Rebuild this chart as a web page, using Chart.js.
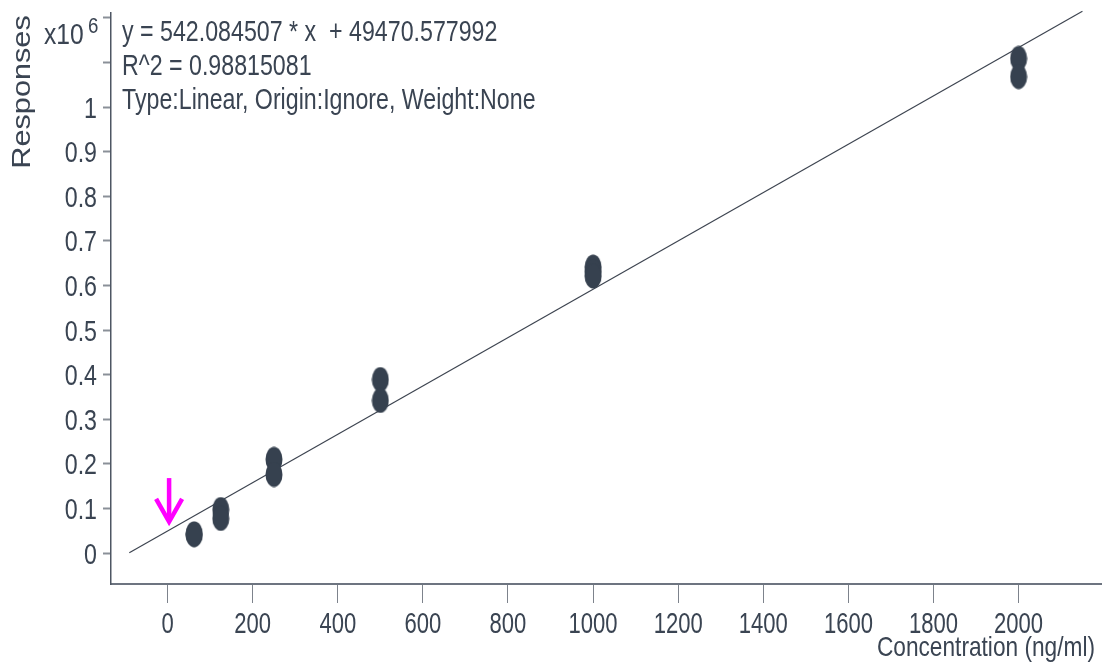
<!DOCTYPE html>
<html>
<head>
<meta charset="utf-8">
<script src="https://cdn.jsdelivr.net/npm/chart.js@4.4.1/dist/chart.umd.min.js"></script>
<style>
  html, body { margin: 0; padding: 0; background: #ffffff; overflow: hidden; }
  #wrap { width: 1102px; height: 665px; position: relative; }
</style>
</head>
<body>
<div id="wrap"><canvas id="calib" width="1102" height="665"></canvas></div>
<script>
// Calibration standards: concentration (ng/ml) and detector response (x10^6)
const concentrations = [62.5, 62.5, 125, 125, 250, 250, 500, 500, 1000, 1000, 1000, 2000, 2000];
const responses      = [0.041, 0.043, 0.0975, 0.0775, 0.210, 0.176, 0.389, 0.342, 0.641, 0.631, 0.621, 1.109, 1.068];

// Linear fit reported by the software
const slope = 542.084507;
const intercept = 49470.577992;
const fitRange = [-90, 2150];

// Axis ticks and their labels
const xTicks = [0, 200, 400, 600, 800, 1000, 1200, 1400, 1600, 1800, 2000];
const xTickLabels = ['0', '200', '400', '600', '800', '1000', '1200', '1400', '1600', '1800', '2000'];
const yTicks = [0, 0.1, 0.2, 0.3, 0.4, 0.5, 0.6, 0.7, 0.8, 0.9, 1, 1.1, 1.2];
const yTickLabels = ['0', '0.1', '0.2', '0.3', '0.4', '0.5', '0.6', '0.7', '0.8', '0.9', '1', '', ''];

// Text block and the arrow marking the origin
const equationLines = [
  'y = 542.084507 * x  + 49470.577992',
  'R^2 = 0.98815081',
  'Type:Linear, Origin:Ignore, Weight:None'
];
const arrowMark = { x: 0, top: 0.168, tip: 0.07 };

const FONT = "'Liberation Sans', Arial, sans-serif";
const TEXT = '#3a4452';
const POINT = '#36414f';

// elliptical marker
function makeMarker(w, h, color) {
  const c = document.createElement('canvas');
  c.width = w; c.height = h;
  const g = c.getContext('2d');
  g.fillStyle = color;
  g.beginPath();
  g.ellipse(w / 2, h / 2, w / 2 - 0.5, h / 2 - 0.5, 0, 0, Math.PI * 2);
  g.fill();
  return c;
}
const marker = makeMarker(18, 26, POINT);

const fitLine = fitRange.map(x => ({ x: x, y: (slope * x + intercept) / 1e6 }));
const points = concentrations.map((c, i) => ({ x: c, y: responses[i] }));

// condensed text: horizontally squeezed glyphs
function narrowText(ctx, text, x, y, size, sx, align) {
  ctx.save();
  ctx.translate(x, y);
  ctx.scale(sx, 1);
  ctx.font = size + 'px ' + FONT;
  ctx.textAlign = align || 'left';
  ctx.textBaseline = 'alphabetic';
  ctx.fillText(text, 0, 0);
  ctx.restore();
}

const overlay = {
  id: 'overlay',
  afterDraw(chart) {
    const ctx = chart.ctx;
    const xs = chart.scales.x, ys = chart.scales.y;
    ctx.save();
    ctx.fillStyle = TEXT;

    // tick labels
    xs.ticks.forEach((t, i) => {
      narrowText(ctx, xTickLabels[i], xs.getPixelForValue(t.value), 633, 29, 0.76, 'center');
    });
    ys.ticks.forEach((t, i) => {
      if (yTickLabels[i]) narrowText(ctx, yTickLabels[i], 97, ys.getPixelForValue(t.value) + 10.5, 29, 0.8, 'right');
    });

    // fit summary
    const base = [40.5, 74.5, 108.5];
    equationLines.forEach((t, i) => narrowText(ctx, t, 122, base[i], 29, 0.8, 'left'));

    // y axis multiplier
    narrowText(ctx, 'x10', 44, 44, 29, 0.85, 'left');
    narrowText(ctx, '6', 88, 33, 22, 0.85, 'left');

    // axis titles
    narrowText(ctx, 'Concentration (ng/ml)', 1095, 656, 28, 0.81, 'right');

    ctx.save();
    ctx.translate(30, 92);
    ctx.rotate(-Math.PI / 2);
    ctx.scale(1.18, 1);
    ctx.font = '26px ' + FONT;
    ctx.textAlign = 'center';
    ctx.textBaseline = 'alphabetic';
    ctx.fillText('Responses', 0, 0);
    ctx.restore();
    ctx.restore();

    // magenta arrow
    const ax = xs.getPixelForValue(arrowMark.x) + 1.5;
    const y0 = ys.getPixelForValue(arrowMark.top);
    const y1 = ys.getPixelForValue(arrowMark.tip);
    ctx.save();
    ctx.strokeStyle = '#ff00ff';
    ctx.lineWidth = 4.5;
    ctx.lineCap = 'butt';
    ctx.beginPath();
    ctx.moveTo(ax, y0);
    ctx.lineTo(ax, y1 - 2);
    ctx.stroke();
    ctx.beginPath();
    ctx.moveTo(ax - 13, y1 - 23);
    ctx.lineTo(ax, y1);
    ctx.lineTo(ax + 13, y1 - 23);
    ctx.stroke();
    ctx.restore();
  }
};

new Chart(document.getElementById('calib'), {
  type: 'scatter',
  data: {
    datasets: [
      {
        label: 'fit',
        data: fitLine,
        showLine: true,
        borderColor: '#3d4450',
        borderWidth: 1.2,
        pointRadius: 0,
        fill: false,
        clip: false,
        order: 2
      },
      {
        label: 'standards',
        data: points,
        pointStyle: marker,
        pointRadius: 12,
        showLine: false,
        clip: false,
        order: 1
      }
    ]
  },
  options: {
    responsive: false,
    animation: false,
    events: [],
    layout: { autoPadding: false, padding: { top: 13, right: 0, left: 0, bottom: 0 } },
    plugins: { legend: { display: false }, tooltip: { enabled: false }, title: { display: false } },
    scales: {
      x: {
        type: 'linear',
        min: -133,
        max: 2196,
        afterBuildTicks(scale) { scale.ticks = xTicks.map(v => ({ value: v })); },
        afterFit(scale) { scale.height = 81; },
        border: { display: true, color: '#6d7480', width: 2 },
        grid: { drawOnChartArea: false, drawTicks: true, tickLength: 19, tickColor: '#7d838c', tickWidth: 1 },
        ticks: { display: false }
      },
      y: {
        type: 'linear',
        min: -0.0695,
        max: 1.2108,
        afterBuildTicks(scale) { scale.ticks = yTicks.map(v => ({ value: v })); },
        afterFit(scale) { scale.width = 111; },
        border: { display: true, color: '#4e5663', width: 1.5 },
        grid: { drawOnChartArea: false, drawTicks: true, tickLength: 8, tickColor: '#8a9098', tickWidth: 2 },
        ticks: { display: false }
      }
    }
  },
  plugins: [overlay]
});
</script>
</body>
</html>
